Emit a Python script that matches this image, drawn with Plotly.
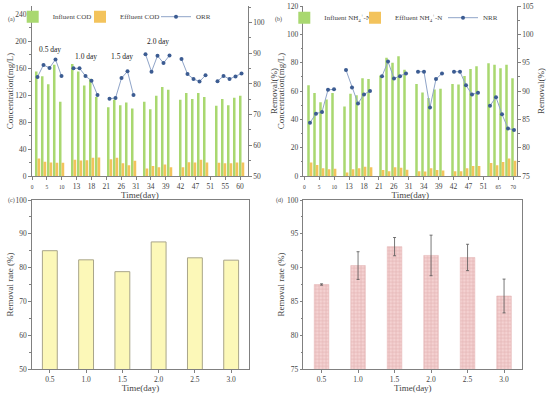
import plotly.graph_objects as go

# ---------------- data ----------------
hrt_groups = ["0.5 day", "1.0 day", "1.5 day", "2.0 day", "2.5 day", "3.0 day"]
group_label_y = [188, 177, 177, 200]          # only first four groups labelled

cod_in = [155, 148, 136, 165, 110,
          166, 155, 134, 144, 117,
          102, 113, 105, 109, 100,
          110, 99, 119, 132, 128,
          113, 123, 114, 123, 117,
          104, 114, 105, 116, 119]
cod_out = [26, 21, 20, 19.5, 19.5,
           24, 23, 23.5, 27, 27.5,
           25, 27, 19, 16, 22.5,
           11, 15, 13, 17, 13,
           13, 20.5, 20, 24, 20,
           19.5, 19, 19, 20, 20]
orr = [82.3, 86.2, 85.2, 88.0, 82.6,
       85.1, 85.1, 82.6, 81.0, 76.4,
       75.2, 75.4, 81.9, 84.1, 76.4,
       89.7, 84.0, 89.2, 86.8, 89.3,
       88.1, 83.2, 81.6, 80.8, 82.8,
       80.9, 82.6, 81.6, 82.4, 83.4]

nh_in = [64, 58.5, 52, 54, 58.5,
         49, 58, 57, 69, 68.5,
         71, 83.5, 80, 84.5, 75,
         65, 59, 55, 61, 61.5,
         65, 64.5, 70.5, 75.5, 77.5,
         79.5, 78.5, 76, 78.5, 69]
nh_out = [9.5, 7.8, 5.5, 4.7, 5.2,
          2.5, 4.7, 5.5, 6.6, 6.2,
          4.2, 3.4, 6.2, 5.9, 4.4,
          3.4, 3.2, 5.5, 4.2, 3.8,
          3.4, 3.4, 5.5, 7.0, 7.0,
          9.2, 7.5, 9.9, 12.3, 10.7]
nrr = [84.4, 86.0, 86.3, 90.2, 90.3,
       93.7, 90.6, 87.8, 89.4, 90.0,
       92.6, 95.2, 92.2, 92.6, 93.1,
       93.4, 93.4, 87.1, 92.1, 93.1,
       93.4, 93.4, 91.0, 89.4, 89.7,
       87.4, 88.9, 85.9, 83.4, 83.1]

a_ticktext = ["0", "5", "10", "13", "18", "21", "26", "31", "34", "39", "42", "47", "51", "55", "60"]
b_ticktext = ["0", "5", "10", "13", "18", "21", "26", "31", "34", "39", "42", "47", "51", "65", "70"]
small_a = {"0", "5", "10"}
small_b = {"0", "5", "10", "65", "70"}

hrt_labels = ["0.5", "1.0", "1.5", "2.0", "2.5", "3.0"]
cod_removal = [85.0, 82.3, 78.8, 87.6, 82.9, 82.2]
nh_removal = [87.5, 90.3, 93.1, 91.8, 91.5, 85.8]
nh_removal_err = [0.1, 2.05, 1.35, 3.0, 1.95, 2.5]

# ---------------- helpers ----------------
PER_GROUP = 5
pos = [(i // PER_GROUP) * (PER_GROUP + 1) + (i % PER_GROUP) for i in range(len(cod_in))]


def broken(xs, ys):
    ox, oy = [], []
    for i, (x, y) in enumerate(zip(xs, ys)):
        if i > 0 and i % PER_GROUP == 0:
            ox.append(None)
            oy.append(None)
        ox.append(x)
        oy.append(y)
    return ox, oy


def fmt_ticks(labels, small):
    return [f"<span style='font-size:5.5px'>{t}</span>" if t in small else t for t in labels]


GREEN = "#A9D870"
ORANGE = "#F3C35C"
LINEC = "#8FA4C8"
MARK = "#3C5C92"
AXC = "#808080"
TXT = "#444444"
FONT = "Liberation Serif"

fig = go.Figure()

# ---------------- panel (a) ----------------
fig.add_trace(go.Bar(x=[p - 0.21 for p in pos], y=cod_in, width=0.42, name="Influent COD",
                     marker=dict(color=GREEN, line=dict(width=0)), xaxis="x", yaxis="y",
                     legend="legend"))
fig.add_trace(go.Bar(x=[p + 0.23 for p in pos], y=cod_out, width=0.45, name="Effluent COD",
                     marker=dict(color=ORANGE, line=dict(width=0)), xaxis="x", yaxis="y",
                     legend="legend2"))
lx, ly = broken(pos, orr)
fig.add_trace(go.Scatter(x=lx, y=ly, mode="lines+markers", name="ORR",
                         line=dict(color=LINEC, width=1),
                         marker=dict(color=MARK, size=4, symbol="circle"),
                         xaxis="x", yaxis="y2", legend="legend3"))

# ---------------- panel (b) ----------------
fig.add_trace(go.Bar(x=[p - 0.2 for p in pos], y=nh_in, width=0.42,
                     name="Influent NH<sub>4</sub><sup>+</sup>-N",
                     marker=dict(color=GREEN, line=dict(width=0)), xaxis="x2", yaxis="y3",
                     legend="legend4"))
fig.add_trace(go.Bar(x=[p + 0.22 for p in pos], y=nh_out, width=0.45,
                     name="Effluent NH<sub>4</sub><sup>+</sup>-N",
                     marker=dict(color=ORANGE, line=dict(width=0)), xaxis="x2", yaxis="y3",
                     legend="legend5"))
lx, ly = broken([p + 0.05 for p in pos], nrr)
fig.add_trace(go.Scatter(x=lx, y=ly, mode="lines+markers", name="NRR",
                         line=dict(color=LINEC, width=1),
                         marker=dict(color=MARK, size=4, symbol="circle"),
                         xaxis="x2", yaxis="y4", legend="legend6"))

# ---------------- panel (c) ----------------
fig.add_trace(go.Bar(x=hrt_labels, y=cod_removal, width=0.41, showlegend=False,
                     marker=dict(color="#FCF8B8", line=dict(color="#A9A58A", width=1)),
                     xaxis="x3", yaxis="y5"))

# ---------------- panel (d) ----------------
fig.add_trace(go.Bar(x=hrt_labels, y=nh_removal, width=0.40, showlegend=False,
                     marker=dict(color="#F4D2D2", line=dict(color="#E2B0B0", width=0.5),
                                 pattern=dict(shape="+", fgcolor="#D08C8C", size=3.5, solidity=0.3)),
                     error_y=dict(type="data", array=nh_removal_err, color="#555555",
                                  thickness=0.8, width=1.5),
                     xaxis="x4", yaxis="y6"))

# ---------------- layout ----------------
W, H = 550, 395


def fx(px):
    return px / W


def fy(py):
    return 1 - py / H


tickfont = dict(family=FONT, size=7.5, color=TXT)
titlefont = dict(family=FONT, size=9, color=TXT)

base_axis = dict(showline=True, linecolor=AXC, linewidth=1, showgrid=False, zeroline=False,
                 ticks="outside", ticklen=2.5, tickcolor=AXC, tickwidth=1, tickfont=tickfont,
                 automargin=False)

dom_top = [fy(176), fy(6)]
dom_bot = [fy(369), fy(200)]

a_tickvals = [-0.917 + 2.476 * k for k in range(len(a_ticktext))]
b_tickvals = [-0.9 + 2.488 * k for k in range(len(b_ticktext))]

fig.update_layout(
    width=W, height=H, margin=dict(l=0, r=0, t=0, b=0),
    plot_bgcolor="white", paper_bgcolor="white", barmode="overlay",
    font=dict(family=FONT, size=7.5, color=TXT),
    xaxis=dict(base_axis, domain=[fx(31.5), fx(248.3)], anchor="y", range=[-1.0, 35.13],
               tickmode="array", tickvals=a_tickvals, ticktext=fmt_ticks(a_ticktext, small_a),
               title=dict(text="Time(day)", font=titlefont, standoff=0)),
    yaxis=dict(base_axis, domain=dom_top, anchor="x", range=[0, 252], dtick=40,
               minor=dict(ticks="outside", ticklen=1.5, dtick=20, tickcolor=AXC),
               title=dict(text="Concentration(mg/L)", font=titlefont, standoff=0)),
    yaxis2=dict(base_axis, overlaying="y", side="right", anchor="x", range=[50, 105.4], dtick=10,
                minor=dict(ticks="outside", ticklen=1.5, dtick=5, tickcolor=AXC),
                title=dict(text="Removal(%)", font=titlefont, standoff=6)),
    xaxis2=dict(base_axis, domain=[fx(303.3), fx(517.3)], anchor="y3", range=[-1.067, 34.6],
                tickmode="array", tickvals=b_tickvals, ticktext=fmt_ticks(b_ticktext, small_b),
                title=dict(text="Time(day)", font=titlefont, standoff=0)),
    yaxis3=dict(base_axis, domain=dom_top, anchor="x2", range=[0, 120], dtick=20,
                minor=dict(ticks="outside", ticklen=1.5, dtick=10, tickcolor=AXC),
                title=dict(text="Concentration(mg/L)", font=titlefont, standoff=0)),
    yaxis4=dict(base_axis, overlaying="y3", side="right", anchor="x2", range=[75, 105], dtick=5,
                minor=dict(ticks="outside", ticklen=1.5, dtick=2.5, tickcolor=AXC),
                title=dict(text="Removal(%)", font=titlefont, standoff=4)),
    xaxis3=dict(base_axis, domain=[fx(31.7), fx(249.3)], anchor="y5", type="category",
                range=[-0.5, 5.5], mirror=True,
                title=dict(text="Time(day)", font=titlefont, standoff=1)),
    yaxis5=dict(base_axis, domain=dom_bot, anchor="x3", range=[50, 100], dtick=10, mirror=True,
                minor=dict(ticks="outside", ticklen=1.5, dtick=5, tickcolor=AXC),
                title=dict(text="Removal rate (%)", font=titlefont, standoff=0)),
    xaxis4=dict(base_axis, domain=[fx(303.3), fx(522.3)], anchor="y6", type="category",
                range=[-0.5, 5.5], mirror=True,
                title=dict(text="Time(day)", font=titlefont, standoff=1)),
    yaxis6=dict(base_axis, domain=dom_bot, anchor="x4", range=[75, 100], dtick=5, mirror=True,
                minor=dict(ticks="outside", ticklen=1.5, dtick=2.5, tickcolor=AXC),
                title=dict(text="Removal rate (%)", font=titlefont, standoff=0)),
)

legfont = dict(family=FONT, size=7, color=TXT)


def leg(text_start_px, y_px):
    return dict(x=fx(text_start_px - 40), y=fy(y_px), xanchor="left", yanchor="middle",
                bgcolor="rgba(0,0,0,0)", borderwidth=0, font=legfont, orientation="v")


fig.update_layout(
    legend=leg(52.7, 16.7), legend2=leg(120, 16.7), legend3=leg(196, 16.7),
    legend4=leg(324.3, 17.7), legend5=leg(395, 17.7), legend6=leg(483, 17.7),
)

# group labels in panel (a)
for g, yv in enumerate(group_label_y):
    centre = sum(pos[g * PER_GROUP:(g + 1) * PER_GROUP]) / PER_GROUP
    fig.add_annotation(x=centre, y=yv, xref="x", yref="y", text=hrt_groups[g], showarrow=False,
                       font=dict(family=FONT, size=7.5, color="#222222"))

# panel letters
for txt, px, py in [("(a)", 6, 14), ("(b)", 278, 14), ("(c)", 6, 200), ("(d)", 279, 200)]:
    fig.add_annotation(x=fx(px), y=fy(py), xref="paper", yref="paper", text=txt, showarrow=False,
                       font=dict(family=FONT, size=6, color=TXT))

fig.write_html("out.html", config={"displayModeBar": False},
               post_script="document.body.style.margin='0px';document.body.style.padding='0px';")
